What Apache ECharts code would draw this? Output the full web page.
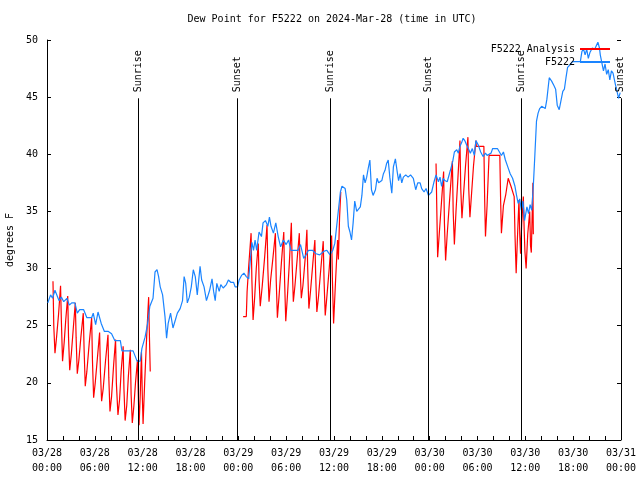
<!DOCTYPE html>
<html>
<head>
<meta charset="utf-8">
<script src="https://cdn.jsdelivr.net/npm/echarts@6/dist/echarts.min.js"></script>
<style>html,body{margin:0;padding:0;background:#fff}#c{width:640px;height:480px}</style>
</head>
<body>
<div id="c"></div>
<script>
// Time values are hours since 2024-03-28 00:00 UTC
var xTickLabels = ['03/28\n00:00','03/28\n06:00','03/28\n12:00','03/28\n18:00','03/29\n00:00','03/29\n06:00','03/29\n12:00','03/29\n18:00','03/30\n00:00','03/30\n06:00','03/30\n12:00','03/30\n18:00','03/31\n00:00'];
var sunTimes = [11.41, 23.83, 35.5, 47.79, 59.46, 71.98];
var sunLabels = ['Sunrise','Sunset','Sunrise','Sunset','Sunrise','Sunset'];

// F5222 (blue) observations: [hour, degF]
var stationHours = [0.1,0.45,0.7,1.0,1.2,1.5,1.8,2.1,2.5,2.8,3.1,3.5,3.8,4.1,4.6,5.0,5.6,5.8,6.1,6.4,6.8,7.2,7.7,8.1,8.5,9.2,9.4,10.8,11.3,11.7,11.9,12.3,12.6,12.9,13.3,13.55,13.8,14.0,14.2,14.5,14.8,15.0,15.2,15.5,15.8,16.1,16.35,16.7,17.0,17.2,17.4,17.6,17.85,18.1,18.35,18.6,18.85,19.2,19.4,19.7,20.0,20.4,20.7,20.9,21.1,21.3,21.6,21.8,22.1,22.5,22.75,23.05,23.4,23.6,23.9,24.1,24.2,24.4,24.7,25.0,25.3,25.5,25.7,25.9,26.1,26.3,26.6,26.9,27.1,27.4,27.7,27.9,28.1,28.4,28.7,29.0,29.3,29.65,30.0,30.3,30.6,31.5,31.8,32.2,32.5,32.8,33.3,33.75,34.2,34.7,35.1,35.5,35.85,36.1,36.35,36.55,36.8,37.0,37.2,37.4,37.6,37.8,38.0,38.2,38.4,38.6,38.85,39.1,39.3,39.5,39.7,39.9,40.1,40.3,40.5,40.7,40.9,41.2,41.4,41.6,41.8,42.0,42.2,42.4,42.6,42.8,43.0,43.25,43.45,43.7,43.9,44.1,44.3,44.5,44.7,45.0,45.3,45.6,45.95,46.25,46.5,46.8,47.0,47.3,47.55,47.85,48.0,48.25,48.55,48.8,49.1,49.3,49.5,49.7,49.9,50.2,50.6,50.9,51.1,51.4,51.6,51.8,52.0,52.2,52.4,52.65,52.85,53.1,53.35,53.6,53.8,54.1,54.4,54.7,55.0,55.2,55.4,55.7,55.9,56.2,56.5,56.75,57.0,57.25,57.5,57.8,58.1,58.4,58.7,58.9,59.1,59.3,59.5,59.7,59.9,60.2,60.4,60.6,60.8,61.0,61.2,61.4,61.6,61.8,62.05,62.5,62.7,63.0,63.3,63.6,63.8,64.0,64.25,64.5,64.7,64.9,65.1,65.3,65.5,65.7,65.9,66.9,67.1,67.3,67.5,67.7,67.9,68.1,68.4,68.7,68.9,69.1,69.3,69.4,69.6,69.8,70.0,70.2,70.4,70.6,70.8,71.0,71.3,71.5,71.7,71.9];
var stationValues = [27.0,27.7,27.4,28.1,28.2,27.2,27.5,27.1,27.4,26.8,27.0,27.0,26.1,26.4,26.4,25.7,25.7,26.1,25.1,26.2,25.2,24.5,24.5,24.3,23.7,23.7,22.8,22.8,21.9,21.9,23.0,24.0,25.1,26.7,27.4,29.7,29.9,29.3,28.4,27.7,25.8,23.9,25.2,26.1,24.8,25.5,26.1,26.5,27.2,29.3,28.7,27.0,27.5,28.4,29.9,29.3,27.7,30.2,29.0,28.4,27.2,28.1,29.1,28.0,27.2,28.7,28.0,28.6,28.3,28.6,29.0,28.8,28.8,28.4,28.4,29.0,29.1,29.4,29.6,29.3,29.1,30.7,32.3,31.6,32.5,31.6,33.2,32.8,34.0,34.2,33.7,34.5,33.7,33.1,34.0,32.8,31.9,32.5,32.1,32.5,31.6,31.6,32.1,30.9,31.2,31.6,31.6,31.3,31.2,31.5,31.6,31.2,31.6,32.2,33.8,35.1,36.7,37.2,37.3,37.0,36.0,33.7,33.2,32.5,34.0,35.9,35.0,35.0,35.4,36.4,38.2,37.5,38.0,38.8,39.5,36.9,36.4,36.9,37.9,37.5,37.6,37.7,38.3,38.6,39.2,39.5,38.0,36.6,38.9,39.6,38.6,37.7,38.3,37.5,38.0,38.2,38.0,38.2,37.9,36.9,37.5,37.5,37.0,36.7,37.0,36.4,36.3,36.7,37.6,38.2,37.6,38.0,37.2,37.9,37.7,37.6,38.6,39.4,40.2,40.4,40.1,40.7,41.0,41.4,41.2,40.8,40.5,40.1,40.5,39.9,41.2,40.8,40.2,39.8,40.1,39.9,39.8,40.1,40.5,40.5,40.5,40.4,39.9,40.2,39.5,38.9,38.3,37.9,37.2,36.4,35.7,36.1,35.1,35.9,34.2,35.4,34.8,35.6,35.1,37.2,40.0,42.9,43.6,44.0,44.2,44.0,44.8,46.7,46.4,46.0,45.7,44.3,43.9,44.0,45.5,45.7,46.7,47.6,47.7,47.9,48.1,48.1,49.0,49.2,48.7,49.2,48.4,48.9,49.3,49.2,49.5,49.8,49.3,48.7,48.0,47.3,47.9,47.0,47.4,46.5,47.3,47.1,46.1,45.5,44.9,45.4];

// F5222 Analysis (red): [hour, degF]
var analysisHours = [0.75,0.85,1.0,1.2,1.45,1.7,1.8,1.95,2.15,2.35,2.6,2.7,2.85,3.05,3.3,3.55,3.65,3.8,4.0,4.25,4.55,4.65,4.8,5.0,5.3,5.6,5.7,5.85,6.05,6.3,6.6,6.7,6.85,7.05,7.35,7.65,7.75,7.9,8.1,8.35,8.6,8.7,8.9,9.1,9.3,9.55,9.65,9.8,10.0,10.2,10.45,10.55,10.7,10.9,11.1,11.35,11.45,11.55,11.7,11.85,11.95,12.05,12.25,12.5,12.75,12.85,12.95,
  null,
  24.6,25.0,25.1,25.3,25.6,25.7,25.85,26.05,26.25,26.5,26.6,26.75,27.0,27.3,27.6,27.7,27.85,28.05,28.35,28.65,28.75,28.9,29.1,29.4,29.7,29.8,29.95,30.15,30.4,30.65,30.75,30.9,31.1,31.4,31.65,31.75,31.9,32.1,32.4,32.6,32.7,32.85,33.05,33.35,33.6,33.7,33.85,34.05,34.35,34.65,34.75,34.9,35.1,35.4,35.7,35.8,35.95,36.2,36.45,36.55,36.7,36.85,
  null,
  48.8,48.9,49.0,49.2,49.45,49.75,49.85,50.0,50.2,50.5,50.85,50.95,51.1,51.3,51.55,51.8,51.9,52.05,52.25,52.5,52.8,52.9,53.05,53.25,53.5,53.8,53.85,54.8,54.9,55.0,55.2,55.45,56.8,56.9,57.0,57.25,57.55,57.85,58.2,58.6,58.7,58.85,59.0,59.2,59.3,59.4,59.55,59.75,59.85,59.95,60.1,60.3,60.55,60.65,60.75,60.85,60.95,61.0];
var analysisValues = [28.9,25.0,22.6,24.0,26.0,28.5,25.5,21.9,23.5,25.5,27.6,24.0,21.1,22.5,24.8,27.0,24.0,20.8,22.0,24.0,26.1,23.0,19.7,21.0,23.5,25.7,22.0,18.7,20.0,22.0,24.4,21.0,18.4,19.5,22.0,24.2,20.5,17.5,18.8,21.5,23.8,20.0,17.2,18.5,21.0,23.2,19.5,16.7,18.0,20.5,22.9,19.0,16.5,18.0,20.0,22.0,19.0,16.3,19.0,22.7,19.0,16.4,20.0,24.0,27.5,24.0,21.0,
  null,
  25.8,25.8,28.0,30.2,33.1,29.0,25.5,27.5,30.0,32.2,29.0,26.7,28.5,31.0,33.8,30.0,27.1,29.0,31.0,33.1,29.0,25.7,27.5,30.5,33.2,29.0,25.4,27.5,30.5,34.0,30.5,27.1,28.5,31.0,33.1,30.0,27.4,28.5,31.0,33.4,30.0,26.5,28.0,30.5,32.5,29.5,26.2,27.5,30.0,32.4,29.0,25.9,27.5,30.0,32.9,29.0,25.2,29.0,32.5,30.8,34.5,36.7,
  null,
  39.2,35.0,31.0,33.0,35.5,38.5,34.0,30.7,33.0,36.0,39.4,35.0,32.1,35.0,38.0,41.2,37.0,34.4,36.5,39.0,41.5,37.0,34.5,36.5,39.0,41.2,40.7,40.7,36.0,32.8,35.5,39.9,39.9,36.0,33.1,35.5,36.5,37.9,37.2,36.3,33.0,29.6,32.5,36.0,33.0,31.3,34.0,36.3,33.5,31.5,30.0,33.0,35.0,32.0,31.4,34.5,37.5,33.0];

function pairs(hs, vs) {
  return hs.map(function (h, i) { return h === null ? [null, null] : [h, vs[i]]; });
}

var FONT = 'DejaVu Sans Mono';
var LINE_TOP = 44.9;   // where the marker lines stop (below their labels)
var chart = echarts.init(document.getElementById('c'), null, {renderer: 'canvas'});

var sunMarks = [];
sunTimes.forEach(function (t, i) {
  sunMarks.push([{name: '', coord: [t, 15]}, {coord: [t, LINE_TOP]}]);
  sunMarks.push([{
    name: sunLabels[i], coord: [t, LINE_TOP],
    lineStyle: {color: 'rgba(0,0,0,0)', width: 0}
  }, {coord: [t, 50]}]);
});

chart.setOption({
  animation: false,
  backgroundColor: '#fff',
  textStyle: {fontFamily: FONT, color: '#000'},
  graphic: [{
    type: 'text', x: 332, y: 19,
    style: {text: 'Dew Point for F5222 on 2024-Mar-28 (time in UTC)', font: '10px "DejaVu Sans Mono"', fill: '#000', textAlign: 'center', textVerticalAlign: 'middle'}
  }],
  legend: {
    orient: 'vertical', right: 30, top: 43, align: 'right',
    itemWidth: 30, itemHeight: 2, itemGap: 1, icon: 'rect', padding: 0,
    textStyle: {fontFamily: FONT, fontSize: 10, color: '#000', lineHeight: 12},
    data: ['F5222 Analysis', 'F5222']
  },
  grid: {left: 47, right: 19, top: 40, bottom: 40, containLabel: false, outerBoundsMode: 'none'},
  xAxis: {
    type: 'value', min: 0, max: 72, interval: 6,
    axisLine: {show: true, lineStyle: {color: '#000', width: 1}},
    axisTick: {show: true, inside: true, length: 4, lineStyle: {color: '#000'}},
    minorTick: {show: true, splitNumber: 3, length: 4, lineStyle: {color: '#000'}},
    splitLine: {show: false},
    axisLabel: {
      color: '#000', fontFamily: FONT, fontSize: 10, lineHeight: 15, margin: 6,
      formatter: function (v) { return xTickLabels[Math.round(v / 6)] || ''; }
    }
  },
  yAxis: [{
    type: 'value', min: 15, max: 50, interval: 5,
    name: 'degrees F', nameLocation: 'middle', nameRotate: 90, nameGap: 32,
    nameTextStyle: {fontFamily: FONT, fontSize: 10, color: '#000'},
    axisLine: {show: true, lineStyle: {color: '#000', width: 1}},
    axisTick: {show: true, inside: true, length: 4, lineStyle: {color: '#000'}},
    splitLine: {show: false},
    axisLabel: {color: '#000', fontFamily: FONT, fontSize: 10, margin: 9}
  }, {
    type: 'value', min: 15, max: 50, interval: 5, position: 'right',
    axisLine: {show: false},
    axisTick: {show: true, inside: true, length: 4, lineStyle: {color: '#000'}},
    splitLine: {show: false},
    axisLabel: {show: false}
  }],
  series: [{
    name: 'sun', type: 'line', data: [], z: 1, silent: true,
    markLine: {
      silent: true, symbol: ['none', 'none'], animation: false,
      lineStyle: {color: '#000', width: 1, type: 'solid'},
      emphasis: {disabled: true},
      label: {show: true, position: 'insideStart', distance: 6, color: '#000', fontFamily: FONT, fontSize: 10, formatter: '{b}'},
      data: sunMarks
    }
  }, {
    name: 'F5222 Analysis', type: 'line', z: 2,
    data: pairs(analysisHours, analysisValues),
    showSymbol: false, connectNulls: false,
    color: '#ff0000', lineStyle: {color: '#ff0000', width: 1.2},
    emphasis: {disabled: true}
  }, {
    name: 'F5222', type: 'line', z: 3,
    data: pairs(stationHours, stationValues),
    showSymbol: false,
    color: '#1a84ff', lineStyle: {color: '#1a84ff', width: 1.2},
    emphasis: {disabled: true}
  }]
});
</script>
</body>
</html>
